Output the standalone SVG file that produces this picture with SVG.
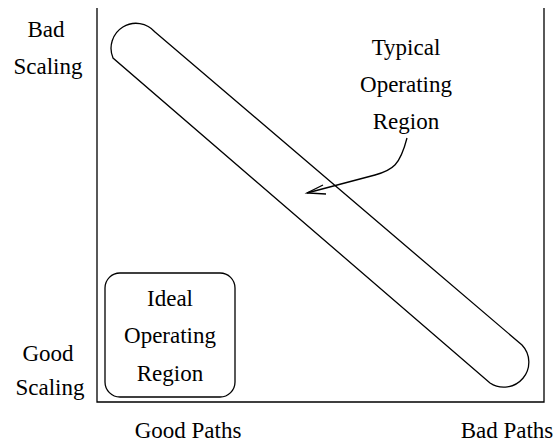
<svg xmlns="http://www.w3.org/2000/svg" width="557" height="443" viewBox="0 0 557 443">
  <style>
    .ln { fill: none; stroke: #000; stroke-width: 1.3; }
    .t { font-family: 'Liberation Serif', Tinos, 'Times New Roman', Times, 'DejaVu Serif', serif; font-size: 23px; fill: #000; text-anchor: middle; }
  </style>
  <rect width="557" height="443" fill="#fff"/>

  <!-- frame: left, bottom and right edges -->
  <g id="frame">
    <path class="ln" d="M 97 8 L 97 402 L 544 402 L 544 8"/>
  </g>

  <!-- axis labels -->
  <g id="label-bad-scaling">
    <text class="t" x="46" y="37">Bad</text>
    <text class="t" x="48" y="74">Scaling</text>
  </g>
  <g id="label-good-scaling">
    <text class="t" x="48" y="361">Good</text>
    <text class="t" x="50" y="395">Scaling</text>
  </g>
  <g id="label-good-paths">
    <text class="t" x="188" y="438">Good Paths</text>
  </g>
  <g id="label-bad-paths">
    <text class="t" x="507" y="438">Bad Paths</text>
  </g>

  <!-- diagonal pill: typical operating region -->
  <g id="typical-region">
    <path class="ln" d="M 155 32 L 522 345 A 25 25 0 0 1 490 383 L 113 58 A 25 25 0 0 1 155 32 Z"/>
    <text class="t" x="406" y="55">Typical</text>
    <text class="t" x="406" y="92">Operating</text>
    <text class="t" x="406" y="129">Region</text>
  </g>

  <!-- rounded box: ideal operating region -->
  <g id="ideal-region">
    <rect class="ln" x="105" y="273" width="130" height="124" rx="15" ry="15"/>
    <text class="t" x="170" y="306">Ideal</text>
    <text class="t" x="170" y="343">Operating</text>
    <text class="t" x="170" y="381">Region</text>
  </g>

  <!-- pointer from label into the pill -->
  <g id="connectors">
    <path class="ln" d="M 407 138 C 400 165 393 170 375 175 L 307 193"/>
    <path class="ln" d="M 323 185 L 307 193 L 326 194"/>
  </g>
</svg>
